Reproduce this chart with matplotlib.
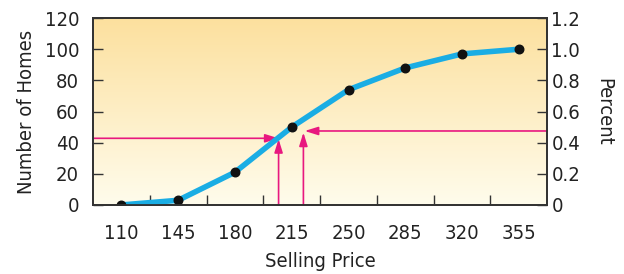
import numpy as np
import matplotlib
matplotlib.use("Agg")
import matplotlib.pyplot as plt
from matplotlib.colors import LinearSegmentedColormap

plt.rcParams['font.family'] = ['DejaVu Sans']
plt.rcParams['font.stretch'] = 'condensed'

# Data
prices = [110, 145, 180, 215, 250, 285, 320, 355]
homes = [0, 3, 21, 50, 74, 88, 97, 100]
boundaries = [127.5, 162.5, 197.5, 232.5, 267.5, 302.5, 337.5]
left_ticks = [0, 20, 40, 60, 80, 100, 120]
left_labels = ['0', '20', '40', '60', '80', '100', '120']
right_ticks = [0, 0.2, 0.4, 0.6, 0.8, 1.0, 1.2]
right_labels = ['0', '0.2', '0.4', '0.6', '0.8', '1.0', '1.2']
# reading lines (price, level)
read1_price, read1_level = 206.9, 42.8
read2_price, read2_level = 222.2, 47.5

xmin, xmax = 92.5, 372.5
pink = '#E8187F'
blue = '#1AADE4'
fs = 14.5

fig = plt.figure(figsize=(6.24, 2.74), dpi=100)
ax = fig.add_axes([0.149, 0.252, 0.728, 0.682])
ax.set_xlim(xmin, xmax)
ax.set_ylim(0, 120)

cmap = LinearSegmentedColormap.from_list('bg', ['#FFFCEC', '#FCE09E'])
grad = np.linspace(0, 1, 256).reshape(-1, 1)
ax.imshow(grad, cmap=cmap, aspect='auto', extent=[xmin, xmax, 0, 120],
          origin='lower', zorder=0)

ax.plot(prices, homes, color=blue, lw=4, zorder=3, solid_capstyle='round')
ax.scatter(prices, homes, s=38, color='#111111', zorder=4)

ap = dict(arrowstyle='-|>,head_length=0.8,head_width=0.25', color=pink, lw=1.2,
          shrinkA=0, shrinkB=0)
ax.annotate('', xy=(read1_price, read1_level), xytext=(xmin, read1_level), arrowprops=ap, zorder=2)
ax.annotate('', xy=(read1_price, read1_level - 0.5), xytext=(read1_price, 0), arrowprops=ap, zorder=2)
ax.annotate('', xy=(read2_price, read2_level - 1.0), xytext=(read2_price, 0), arrowprops=ap, zorder=2)
ax.annotate('', xy=(read2_price + 0.8, read2_level), xytext=(xmax, read2_level), arrowprops=ap, zorder=2)

ax.set_xticks(boundaries)
ax.set_xticklabels([])
ax.set_xticks(prices, minor=True)
ax.set_xticklabels([str(p) for p in prices], minor=True)
ax.tick_params(axis='x', which='major', direction='in', length=7, width=1, color='#333333')
ax.tick_params(axis='x', which='minor', length=0, pad=14, labelsize=fs, labelcolor='#222222')

ax.set_yticks(left_ticks)
ax.set_yticklabels(left_labels)
ax.tick_params(axis='y', direction='in', length=7, width=1, color='#333333',
               labelsize=fs, labelcolor='#222222', pad=10)

ax2 = ax.twinx()
ax2.set_ylim(0, 1.2)
ax2.set_yticks(right_ticks)
ax2.set_yticklabels(right_labels)
ax2.tick_params(axis='y', direction='in', length=7, width=1, color='#333333',
                labelsize=fs, labelcolor='#222222', pad=3)

for a in (ax, ax2):
    for s in a.spines.values():
        s.set_linewidth(1.3)
        s.set_color('#333333')

ax.set_xlabel('Selling Price', fontsize=fs, color='#222222', labelpad=6)
ax.set_ylabel('Number of Homes', fontsize=fs, color='#222222', labelpad=6)
ax2.set_ylabel('Percent', fontsize=fs, color='#222222', rotation=-90, labelpad=24)

fig.savefig('out.png', dpi=100)
